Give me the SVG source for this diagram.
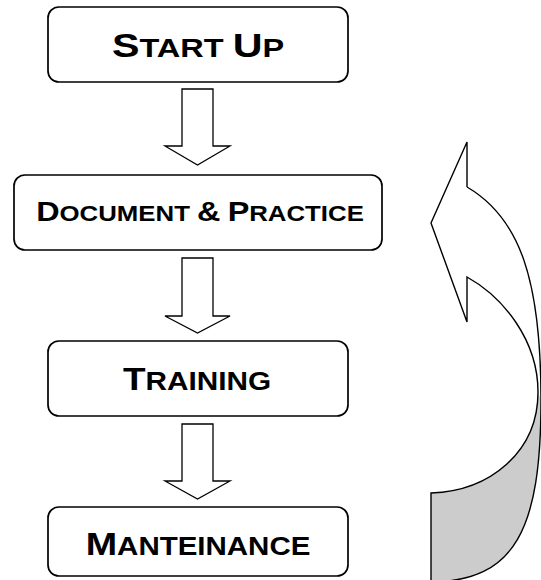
<svg xmlns="http://www.w3.org/2000/svg" width="541" height="580" viewBox="0 0 541 580">
<style>
.box{fill:#fff;stroke:#000;stroke-width:1.7}
.arr{fill:#fff;stroke:#000;stroke-width:1.3;stroke-linejoin:miter}
.lbl{font-family:"Liberation Sans",Arial,sans-serif;font-weight:bold;fill:#000;text-anchor:middle}
.curve{fill:none;stroke:#000;stroke-width:1.4;stroke-linejoin:miter}
</style>
<rect width="541" height="580" fill="#fff"/>
<g id="node-startup">
<rect class="box" x="48" y="7" width="300" height="75" rx="11"/>
<text class="lbl" transform="translate(198,57) scale(1.25,1)"><tspan font-size="33">S</tspan><tspan font-size="26">TART </tspan><tspan font-size="33">U</tspan><tspan font-size="26">P</tspan></text>
</g>
<g id="node-document">
<rect class="box" x="14" y="175" width="368" height="75" rx="11"/>
<text class="lbl" transform="translate(200,221) scale(1.2,1)"><tspan font-size="27">D</tspan><tspan font-size="21.5">OCUMENT </tspan><tspan font-size="27">&amp;</tspan><tspan font-size="21.5"> </tspan><tspan font-size="27">P</tspan><tspan font-size="21.5">RACTICE</tspan></text>
</g>
<g id="node-training">
<rect class="box" x="48" y="341" width="300" height="75" rx="11"/>
<text class="lbl" transform="translate(197,390) scale(1.19,1)"><tspan font-size="31">T</tspan><tspan font-size="25">RAINING</tspan></text>
</g>
<g id="node-manteinance">
<rect class="box" x="48" y="507" width="300" height="69" rx="11"/>
<text class="lbl" transform="translate(198,555) scale(1.18,1)"><tspan font-size="32">M</tspan><tspan font-size="25">ANTEINANCE</tspan></text>
</g>
<g id="connectors">
<polygon class="arr" points="182,89 213,89 213,146 230,146 197.5,165 165,146 182,146"/>
<polygon class="arr" points="182,258 213,258 213,316 230,316 197.5,333 165,316 182,316"/>
<polygon class="arr" points="182,424 213,424 213,481 230,481 197.5,499 165,481 182,481"/>
<g id="cycle-arrow">
<path d="M538,392 C538,452 490,491 431,493 L431,582 C515,581 541,530 541,400 Z" fill="#cccccc" stroke="none"/>
<path class="curve" d="M467,187 L467,142 L431,223 L467,322 L467,277 C503,297 538,340 538,392 C538,452 490,491 431,493 L431,582"/>
<path class="curve" d="M467,187 C520,218 541,280 541,400 C541,530 515,581 431,582"/>
</g>
</g>
</svg>
